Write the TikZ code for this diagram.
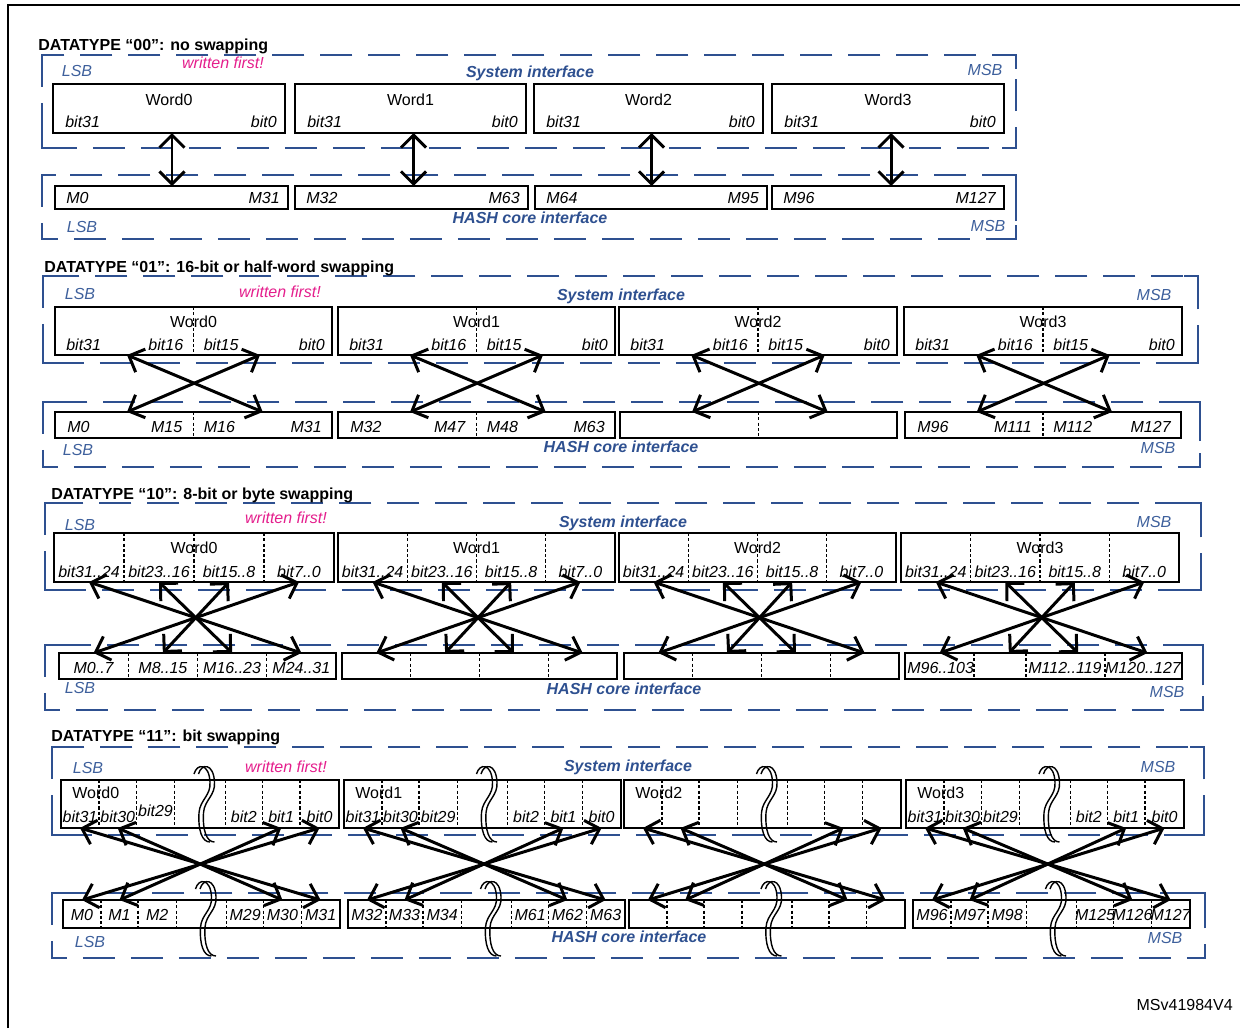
\documentclass[tikz,border=0pt]{standalone}
\usepackage{fontspec}
\setmainfont{Liberation Sans}
\usetikzlibrary{arrows.meta}
\definecolor{ifblue}{RGB}{46,80,144}
\definecolor{sideblue}{RGB}{62,96,156}
\definecolor{ifpink}{RGB}{228,30,140}
\tikzset{
  lbl/.style={inner sep=0pt, font=\fontsize{9.1}{11}\selectfont},
  bitlbl/.style={inner sep=0pt, font=\fontsize{9.1}{11}\selectfont\itshape},
  title/.style={inner sep=0pt, anchor=west, font=\fontsize{9.1}{11}\selectfont\bfseries},
  ifname/.style={inner sep=0pt, text=ifblue, font=\fontsize{9.1}{11}\selectfont\bfseries\itshape},
  sidelbl/.style={inner sep=0pt, text=sideblue, font=\fontsize{9.1}{11}\selectfont\itshape},
  firstlbl/.style={inner sep=0pt, text=ifpink, font=\fontsize{9.1}{11}\selectfont\itshape},
  wordbox/.style={draw, line width=1.1pt},
  divline/.style={line width=0.8pt, dash pattern=on 1.8pt off 1.2pt},
  ifline/.style={draw=ifblue, line width=1.3pt, dash pattern=on 0.64cm off 0.32cm},
  ifcorner/.style={draw=ifblue, line width=1.3pt},
  swaparrow/.style={{Straight Barb[length=2.5mm,width=5mm]}-{Straight Barb[length=2.5mm,width=5mm]}, line width=1.7pt},
}
% double wavy break mark: x, top, bottom
\newcommand{\brkmark}[3]{%
  \foreach \dx in {0,4.5} {
    \draw[line width=0.8pt] ({#1-6+\dx},{#2+9}) .. controls ({#1-3+\dx},{#2-2}) and ({#1+9+\dx},{#2-2}) .. ({#1+10+\dx},{#2+0.22*(#3-#2)})
      .. controls ({#1+11+\dx},{#2+0.4*(#3-#2)}) and ({#1+\dx},{#2+0.45*(#3-#2)}) .. ({#1-1+\dx},{#2+0.62*(#3-#2)})
      .. controls ({#1-2+\dx},{#2+0.85*(#3-#2)}) and ({#1+2+\dx},{#3}) .. ({#1+10+\dx},{#3});
  }%
}
% dashed interface frame with solid corners: x0, y0, x1, y1
\newcommand{\ifframe}[4]{%
  \draw[ifline] (#1,#2) rectangle (#3,#4);
  \draw[ifcorner] (#1,#2+14) -- (#1,#2) -- (#1+14,#2);
  \draw[ifcorner] (#3-14,#2) -- (#3,#2) -- (#3,#2+14);
  \draw[ifcorner] (#3,#4-14) -- (#3,#4) -- (#3-14,#4);
  \draw[ifcorner] (#1+14,#4) -- (#1,#4) -- (#1,#4-14);
}
\begin{document}
\begin{tikzpicture}[x=0.02cm, y=-0.02cm]
\useasboundingbox (0,0) rectangle (1240,1028);
\draw[line width=1.2pt] (8,1028) -- (8,5) -- (1240,5);  % outer frame

% DATATYPE 00
\ifframe{42}{55}{1016}{148}
\ifframe{42}{175}{1016}{239}
\node[title] (t0) at (38,46) {DATATYPE “00”: no swapping};
\node[sidelbl] (lsb0a) at (77,71) {LSB};
\node[firstlbl] (wf0) at (223,63) {written first!};
\node[ifname] (si0) at (530,73) {System interface};
\node[sidelbl] (msb0a) at (985,70) {MSB};
\node[ifname] (hi0) at (530,218) {HASH core interface};
\node[sidelbl] (lsb0b) at (82,227) {LSB};
\node[sidelbl] (msb0b) at (988,226) {MSB};
\foreach \i/\a/\b in {0/53/285,1/295/526,2/534/763,3/772/1004} {
  \draw[wordbox] (\a,84) rectangle (\b,133);
  \node[lbl] (w0\i) at ({(\a+\b)/2},100) {Word\i};
  \node[bitlbl, anchor=west] (w0l\i) at (\a+12,122) {bit31};
  \node[bitlbl, anchor=east] (w0r\i) at (\b-8,122) {bit0};
  \coordinate (s0\i) at ({(\a+\b)/2+3},133);
  \coordinate (h0\i) at ({(\a+\b)/2+3},186);
}
\foreach \i/\a/\b/\p/\q in {0/55/288/0/31,1/295/528/32/63,2/535/767/64/95,3/772/1004/96/127} {
  \draw[wordbox] (\a,186) rectangle (\b,209);
  \node[bitlbl, anchor=west] (m0l\i) at (\a+11,198) {M\p};
  \node[bitlbl, anchor=east] (m0r\i) at (\b-8,198) {M\q};
}
\foreach \i in {0,...,3} \draw[swaparrow] (s0\i) -- (h0\i);

% DATATYPE 01
\ifframe{43}{276}{1198}{363}
\ifframe{43}{402}{1200}{467}
\node[title] (t1) at (44,268) {DATATYPE “01”: 16-bit or half-word swapping};
\node[sidelbl] (lsb1a) at (80,294) {LSB};
\node[firstlbl] (wf1) at (280,292) {written first!};
\node[ifname] (si1) at (621,296) {System interface};
\node[sidelbl] (msb1a) at (1154,295) {MSB};
\node[ifname] (hi1) at (621,447) {HASH core interface};
\node[sidelbl] (lsb1b) at (78,450) {LSB};
\node[sidelbl] (msb1b) at (1158,448) {MSB};
\foreach \i/\a/\b in {0/55/332,1/338/615,2/619/897,3/904/1182} {
  \draw[wordbox] (\a,307) rectangle (\b,355);
  \draw[divline] ({(\a+\b)/2},307) -- ({(\a+\b)/2},355);
  \node[lbl] (w1\i) at ({(\a+\b)/2},322) {Word\i};
  \node[bitlbl, anchor=west] (w1a\i) at (\a+11,345) {bit31};
  \node[bitlbl, anchor=east] (w1b\i) at ({(\a+\b)/2-10},345) {bit16};
  \node[bitlbl, anchor=west] (w1c\i) at ({(\a+\b)/2+10},345) {bit15};
  \node[bitlbl, anchor=east] (w1d\i) at (\b-7,345) {bit0};
  \coordinate (s1l\i) at ({\a+0.26*(\b-\a)},355);
  \coordinate (s1r\i) at ({\a+0.74*(\b-\a)},355);
}
\foreach \i/\a/\b in {0/55/332,1/338/615,2/620/897,3/905/1181} {
  \draw[wordbox] (\a,412) rectangle (\b,438);
  \draw[divline] ({(\a+\b)/2},412) -- ({(\a+\b)/2},438);
  \coordinate (h1l\i) at ({\a+0.26*(\b-\a)},412);
  \coordinate (h1r\i) at ({\a+0.75*(\b-\a)},412);
}
\foreach \i/\a/\b/\p/\q/\r/\s in {0/55/332/0/15/16/31,1/338/615/32/47/48/63,3/905/1181/96/111/112/127} {
  \node[bitlbl, anchor=west] (m1a\i) at (\a+12,427) {M\p};
  \node[bitlbl, anchor=east] (m1b\i) at ({(\a+\b)/2-11},427) {M\q};
  \node[bitlbl, anchor=west] (m1c\i) at ({(\a+\b)/2+10},427) {M\r};
  \node[bitlbl, anchor=east] (m1d\i) at (\b-10,427) {M\s};
}
\foreach \i in {0,...,3} {
  \draw[swaparrow] (s1l\i) -- (h1r\i);
  \draw[swaparrow] (s1r\i) -- (h1l\i);
}

% DATATYPE 10
\ifframe{45}{503}{1201}{590}
\ifframe{45}{645}{1203}{710}
\node[title] (t2) at (51,495) {DATATYPE “10”: 8-bit or byte swapping};
\node[sidelbl] (lsb2a) at (80,525) {LSB};
\node[firstlbl] (wf2) at (286,518) {written first!};
\node[ifname] (si2) at (623,523) {System interface};
\node[sidelbl] (msb2a) at (1154,522) {MSB};
\node[ifname] (hi2) at (624,689) {HASH core interface};
\node[sidelbl] (lsb2b) at (80,688) {LSB};
\node[sidelbl] (msb2b) at (1167,692) {MSB};
\foreach \i/\a/\b in {0/54/334,1/338/615,2/619/896,3/901/1179} {
  \draw[wordbox] (\a,533) rectangle (\b,582);
  \foreach \k in {1,2,3} \draw[divline] ({\a+\k*(\b-\a)/4},533) -- ({\a+\k*(\b-\a)/4},582);
  \node[lbl] (w2\i) at ({(\a+\b)/2},548) {Word\i};
  \foreach \k/\lab in {0/{31..24},1/{23..16},2/{15..8},3/{7..0}}
    \node[bitlbl] (b2\i\k) at ({\a+(\k+0.5)*(\b-\a)/4},572) {bit\lab};
  \foreach \k in {0,...,3} \coordinate (s2\i\k) at ({\a+(\k+0.5)*(\b-\a)/4},582);
}
\foreach \i/\a/\b in {0/59/336,1/342/617,2/624/899,3/905/1182} {
  \draw[wordbox] (\a,653) rectangle (\b,679);
  \foreach \k in {0,...,3} \coordinate (h2\i\k) at ({\a+(\k+0.5)*(\b-\a)/4},653);
}
\foreach \a/\b in {59/336,342/617,624/899}
  \foreach \k in {1,2,3} \draw[divline] ({\a+\k*(\b-\a)/4},653) -- ({\a+\k*(\b-\a)/4},679);
\foreach \x in {974,1026,1105} \draw[divline] (\x,653) -- (\x,679);
\foreach \k/\lab in {0/{0..7},1/{8..15},2/{16..23},3/{24..31}}
  \node[bitlbl] (m20\k) at ({59+(\k+0.5)*277/4},668) {M\lab};
\node[bitlbl, anchor=west] (m230) at (907,668) {M96..103};
\node[bitlbl] (m232) at (1065,668) {M112..119};
\node[bitlbl] (m233) at (1143,668) {M120..127};
\foreach \i in {0,...,3}
  \foreach \k/\kk in {0/3,1/2,2/1,3/0} \draw[swaparrow] (s2\i\k) -- (h2\i\kk);

% DATATYPE 11
\ifframe{52}{747}{1204}{835}
\ifframe{52}{893}{1205}{958}
\node[title] (t3) at (51,737) {DATATYPE “11”: bit swapping};
\node[sidelbl] (lsb3a) at (88,768) {LSB};
\node[firstlbl] (wf3) at (286,767) {written first!};
\node[ifname] (si3) at (628,767) {System interface};
\node[sidelbl] (msb3a) at (1158,767) {MSB};
\node[ifname] (hi3) at (629,937) {HASH core interface};
\node[sidelbl] (lsb3b) at (90,942) {LSB};
\node[sidelbl] (msb3b) at (1165,938) {MSB};
\foreach \i/\a/\b in {0/61/339,1/344/621,2/624/901,3/906/1184} {
  \draw[wordbox] (\a,780) rectangle (\b,828);
  \foreach \f in {0.137,0.271,0.409,0.591,0.724,0.860}
    \draw[divline] ({\a+\f*(\b-\a)},780) -- ({\a+\f*(\b-\a)},828);
  \node[lbl, anchor=west] (w3\i) at (\a+11,793) {Word\i};
  \brkmark{(\a+\b)/2}{765}{842}
  \coordinate (s3a\i) at ({\a+0.0685*(\b-\a)},828);
  \coordinate (s3b\i) at ({\a+0.204*(\b-\a)},828);
  \coordinate (s3c\i) at ({\a+0.792*(\b-\a)},828);
  \coordinate (s3d\i) at ({\a+0.930*(\b-\a)},828);
}
\foreach \i/\a/\b in {0/61/339,1/344/621,3/906/1184}
  \foreach \f/\lab in {0.0685/31,0.204/30,0.340/29,0.6575/2,0.792/1,0.930/0}
    \node[bitlbl] (b3\i\lab) at ({\a+\f*(\b-\a)},{817-6*(\i==0)*(\lab==29)}) {bit\lab};
\foreach \i/\a/\b in {0/63/340,1/348/625,2/629/905,3/913/1190} {
  \draw[wordbox] (\a,900) rectangle (\b,928);
  \foreach \f in {0.137,0.271,0.409,0.591,0.724,0.860}
    \draw[divline] ({\a+\f*(\b-\a)},900) -- ({\a+\f*(\b-\a)},928);
  \brkmark{(\a+\b)/2}{880}{956}
  \coordinate (h3a\i) at ({\a+0.0685*(\b-\a)},900);
  \coordinate (h3b\i) at ({\a+0.204*(\b-\a)},900);
  \coordinate (h3c\i) at ({\a+0.792*(\b-\a)},900);
  \coordinate (h3d\i) at ({\a+0.930*(\b-\a)},900);
}
\foreach \i/\a/\b in {0/63/340,1/348/625,3/913/1190}
  \foreach \f/\o in {0.0685/0,0.204/1,0.340/2,0.6575/29,0.792/30,0.930/31} {
    \pgfmathtruncatemacro{\mm}{32*\i+\o}
    \node[bitlbl] (m3\i\o) at ({\a+\f*(\b-\a)},915) {M\mm};
  }
\foreach \i in {0,...,3} {
  \draw[swaparrow] (s3a\i) -- (h3d\i);
  \draw[swaparrow] (s3b\i) -- (h3c\i);
  \draw[swaparrow] (s3c\i) -- (h3b\i);
  \draw[swaparrow] (s3d\i) -- (h3a\i);
}

\node[lbl, anchor=east] (ref) at (1233,1005) {MSv41984V4};
\end{tikzpicture}
\end{document}
